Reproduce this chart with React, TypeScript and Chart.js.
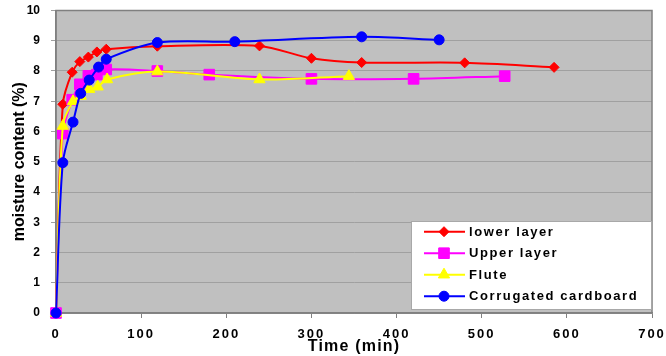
import React, { useEffect, useRef } from "react";
import { Chart, registerables } from "chart.js";
Chart.register(...registerables);

const lowerTime = [0, 8, 19, 28, 38, 48, 59, 119, 239, 300, 359, 480, 585];
const lowerMoisture = [0, 6.9, 7.96, 8.31, 8.46, 8.63, 8.72, 8.82, 8.83, 8.42, 8.28, 8.27, 8.12];
const upperTime = [0, 8, 19, 28, 38, 48, 59, 119, 180, 300, 420, 527];
const upperMoisture = [0, 5.93, 7.05, 7.56, 7.84, 7.88, 8.05, 8.0, 7.88, 7.74, 7.74, 7.83];
const fluteTime = [0, 8, 20, 29, 39, 49, 60, 119, 239, 344];
const fluteMoisture = [0, 6.18, 7.0, 7.17, 7.4, 7.48, 7.72, 7.98, 7.72, 7.83];
const cardboardTime = [0, 8, 20, 29, 39, 50, 59, 119, 210, 359, 450];
const cardboardMoisture = [0, 4.97, 6.31, 7.26, 7.7, 8.13, 8.39, 8.94, 8.97, 9.13, 9.03];

const seriesLabels = ["lower layer", "Upper layer", "Flute", "Corrugated cardboard"];
const seriesColors = ["#FF0000", "#FF00FF", "#FFFF00", "#0000FF"];
const seriesMarkers = ["rectRot", "rect", "triangle", "circle"];
const seriesRadius = [5, 7.5, 6.5, 5];
const seriesTimes = [lowerTime, upperTime, fluteTime, cardboardTime];
const seriesValues = [lowerMoisture, upperMoisture, fluteMoisture, cardboardMoisture];

const xMin = 0, xMax = 700, xStep = 100;
const yMin = 0, yMax = 10, yStep = 1;
const xTitle = "Time (min)";
const yTitle = "moisture content (%)";

const FONT = "'Liberation Sans', Arial, sans-serif";

function drawMarker(ctx: CanvasRenderingContext2D, style: string, x: number, y: number, r: number, color: string) {
  ctx.save();
  ctx.fillStyle = color;
  ctx.strokeStyle = color;
  ctx.lineWidth = 1;
  ctx.beginPath();
  if (style === "rectRot") {
    ctx.moveTo(x, y - r);
    ctx.lineTo(x + r, y);
    ctx.lineTo(x, y + r);
    ctx.lineTo(x - r, y);
    ctx.closePath();
  } else if (style === "rect") {
    const s = Math.SQRT1_2 * r;
    ctx.rect(x - s, y - s, 2 * s, 2 * s);
  } else if (style === "triangle") {
    for (let i = 0; i < 3; i++) {
      const a = (i * 2 * Math.PI) / 3;
      const px = x + Math.sin(a) * r;
      const py = y - Math.cos(a) * r;
      if (i === 0) ctx.moveTo(px, py);
      else ctx.lineTo(px, py);
    }
    ctx.closePath();
  } else {
    ctx.arc(x, y, r, 0, Math.PI * 2);
  }
  ctx.fill();
  ctx.stroke();
  ctx.restore();
}

const plotFrame = {
  id: "plotFrame",
  beforeDraw(chart: any) {
    const { ctx, chartArea: a } = chart;
    ctx.save();
    ctx.fillStyle = "#FFFFFF";
    ctx.fillRect(0, 0, chart.width, chart.height);
    ctx.fillStyle = "#C0C0C0";
    ctx.fillRect(a.left, a.top, a.right - a.left, a.bottom - a.top);
    ctx.restore();
    const sx = chart.scales.x;
    if (sx && !sx._spaced) {
      const dl = sx.drawLabels.bind(sx);
      const dt = sx.drawTitle.bind(sx);
      sx.drawLabels = (area: any) => {
        ctx.save();
        ctx.letterSpacing = "2px";
        dl(area);
        ctx.restore();
      };
      sx.drawTitle = () => {
        ctx.save();
        ctx.letterSpacing = "1.2px";
        dt();
        ctx.restore();
      };
      sx._spaced = true;
    }
  },
  beforeDatasetsDraw(chart: any) {
    const { ctx, chartArea: a } = chart;
    ctx.save();
    ctx.strokeStyle = "#808080";
    ctx.lineWidth = 1.5;
    ctx.strokeRect(a.left, a.top, a.right - a.left, a.bottom - a.top);
    ctx.restore();
  },
};

const boxLegend = {
  id: "boxLegend",
  afterDraw(chart: any) {
    const { ctx, chartArea: a } = chart;
    const w = 241, h = 89;
    const x0 = a.right - w;
    const y0 = a.bottom - 92;
    ctx.save();
    ctx.fillStyle = "#FFFFFF";
    ctx.fillRect(x0, y0, w, h);
    ctx.strokeStyle = "#A8A8A8";
    ctx.lineWidth = 1;
    ctx.strokeRect(x0 + 0.5, y0 + 0.5, w - 1, h - 1);
    ctx.font = `bold 13px ${FONT}`;
    ctx.textBaseline = "middle";
    ctx.textAlign = "left";
    (ctx as any).letterSpacing = "1.6px";
    seriesLabels.forEach((label, i) => {
      const y = y0 + 10.7 + i * 21.5;
      ctx.strokeStyle = seriesColors[i];
      ctx.lineWidth = 2;
      ctx.beginPath();
      ctx.moveTo(x0 + 13, y);
      ctx.lineTo(x0 + 54, y);
      ctx.stroke();
      drawMarker(ctx, seriesMarkers[i], x0 + 33, y, seriesRadius[i], seriesColors[i]);
      ctx.fillStyle = "#000000";
      ctx.fillText(label, x0 + 58, y + 0.5);
    });
    ctx.restore();
  },
};

export default function App() {
  const ref = useRef<HTMLCanvasElement | null>(null);
  useEffect(() => {
    if (!ref.current) return;
    const datasets = seriesLabels.map((label, i) => ({
      label,
      data: seriesTimes[i].map((t, j) => ({ x: t, y: seriesValues[i][j] })),
      borderColor: seriesColors[i],
      backgroundColor: seriesColors[i],
      pointBackgroundColor: seriesColors[i],
      pointBorderColor: seriesColors[i],
      pointStyle: seriesMarkers[i],
      pointRadius: seriesRadius[i],
      pointBorderWidth: 1,
      borderWidth: 2,
      tension: 0.3,
      fill: false,
      clip: false,
      order: 4 - i,
    }));
    const chart = new Chart(ref.current, {
      type: "line",
      data: { datasets },
      plugins: [plotFrame, boxLegend],
      options: {
        animation: false,
        responsive: false,
        devicePixelRatio: 1,
        layout: { padding: { top: 10.5, right: 14, left: 0, bottom: 0 } },
        plugins: { legend: { display: false }, tooltip: { enabled: false } },
        scales: {
          x: {
            type: "linear",
            min: xMin,
            max: xMax,
            afterFit: (s: any) => {
              s.height = 43;
              s.paddingLeft = 0;
              s.paddingRight = 0;
            },
            ticks: {
              stepSize: xStep,
              color: "#000000",
              font: { family: FONT, size: 13, weight: "bold" },
              padding: 9,
              maxRotation: 0,
            },
            grid: { drawOnChartArea: false, drawTicks: true, tickLength: 5, color: "#808080" },
            border: { display: true, color: "#808080", width: 1.5 },
            title: {
              display: true,
              text: xTitle,
              color: "#000000",
              font: { family: FONT, size: 16, weight: "bold" },
              padding: 0,
            },
          },
          y: {
            type: "linear",
            min: yMin,
            max: yMax,
            afterFit: (s: any) => {
              s.width = 56;
              s.paddingTop = 0;
              s.paddingBottom = 0;
            },
            ticks: {
              stepSize: yStep,
              color: "#000000",
              font: { family: FONT, size: 12, weight: "bold" },
              padding: 11,
            },
            grid: { color: "#A0A0A0", lineWidth: 1, tickLength: 5, drawTicks: true },
            border: { display: true, color: "#808080", width: 1.5 },
            title: {
              display: true,
              text: yTitle,
              color: "#000000",
              font: { family: FONT, size: 16, weight: "bold" },
              padding: { top: 10, bottom: 0 },
            },
          },
        },
      } as any,
    });
    return () => chart.destroy();
  }, []);
  return (
    <div style={{ position: "absolute", left: 0, top: 0, width: 666, height: 356, background: "#fff" }}>
      <canvas ref={ref} width={666} height={356} style={{ display: "block" }} />
    </div>
  );
}
